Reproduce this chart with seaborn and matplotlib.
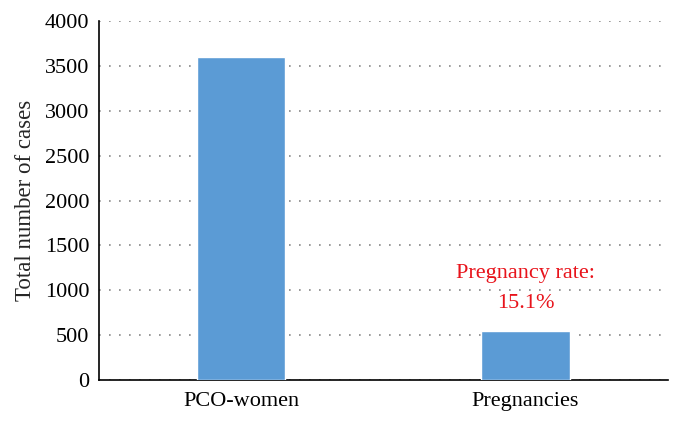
import matplotlib
matplotlib.use("Agg")
import matplotlib.pyplot as plt
import seaborn as sns
import pandas as pd

# Chart data
categories = ["PCO-women", "Pregnancies"]
cases = [3600, 545]
rate_label = "Pregnancy rate:\n15.1%"

df = pd.DataFrame({"group": categories, "cases": cases})

sns.set_style("white")
plt.rcParams['font.family'] = ['Liberation Serif', 'DejaVu Serif']

fig = plt.figure(figsize=(6.82, 4.24), dpi=100)
ax = fig.add_axes([0.145, 0.104, 0.834, 0.846])

sns.barplot(data=df, x="group", y="cases", color="#5B9BD5", saturation=1,
            width=0.31, ax=ax, zorder=3)

ax.set_ylim(0, 4000)
ax.set_xlim(-0.5, 1.5)
ax.set_yticks(range(0, 4001, 500))
ax.yaxis.grid(True, linestyle=(0, (1, 5)), color="#888888", linewidth=1.2)
ax.set_axisbelow(True)

for side in ["top", "right"]:
    ax.spines[side].set_visible(False)
for side in ["left", "bottom"]:
    ax.spines[side].set_color("black")
    ax.spines[side].set_linewidth(1.2)

ax.tick_params(axis="y", length=0, labelsize=16, pad=7, colors="black")
ax.tick_params(axis="x", length=0, labelsize=16, pad=9, colors="black")
ax.set_xlabel("")
ax.set_ylabel("Total number of cases", fontsize=16.5, labelpad=6)

# Annotation above the pregnancies bar
ax.text(1, 1020, rate_label, color="#E8131B", fontsize=16,
        ha="center", va="center", linespacing=1.75)

fig.savefig("out.png", dpi=100)
